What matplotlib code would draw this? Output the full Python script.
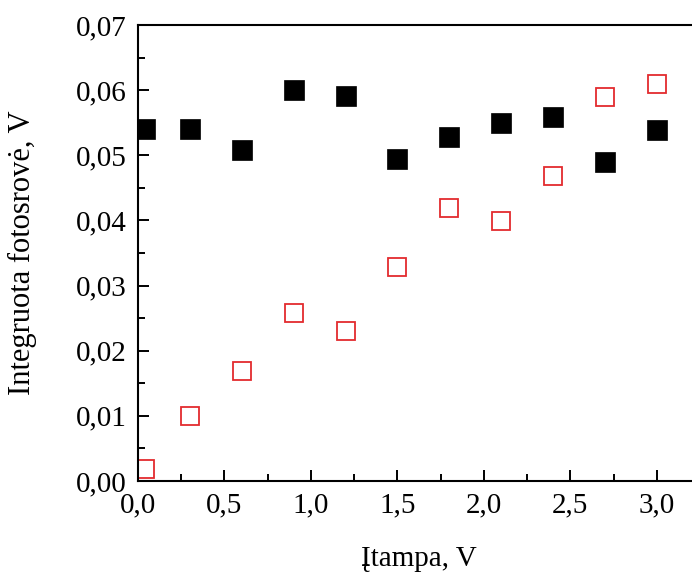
import matplotlib
matplotlib.use("Agg")
import matplotlib.pyplot as plt
from matplotlib.ticker import MultipleLocator, FuncFormatter

# Measured photocurrent for the two sample series
voltage = [0.04, 0.3, 0.6, 0.9, 1.2, 1.5, 1.8, 2.1, 2.4, 2.7, 3.0]
signal_filled = [0.054, 0.054, 0.0508, 0.0600, 0.0591, 0.0494, 0.0528, 0.0550, 0.0559, 0.0490, 0.0539]
signal_open = [0.0018, 0.0100, 0.0169, 0.0258, 0.0230, 0.0329, 0.0419, 0.0399, 0.0468, 0.0590, 0.0610]

x_label = "Įtampa, V"
y_label = "Integruota fotosrovė, V"

plt.rcParams["font.family"] = ["Liberation Serif", "DejaVu Serif"]
plt.rcParams["font.size"] = 21

fig = plt.figure(figsize=(6.92, 5.73), dpi=100)
ax = fig.add_axes([138 / 692, 1 - 481 / 573, 562 / 692, (481 - 25) / 573])

ax.plot(voltage, signal_filled, linestyle="none", marker="s", ms=14,
        mfc="black", mec="black", mew=0.5)
ax.plot(voltage, signal_open, linestyle="none", marker="s", ms=12.3,
        mfc="none", mec="#e32b2e", mew=1.3)

ax.set_xlim(0, 3.25)
ax.set_ylim(0, 0.07)
ax.xaxis.set_major_locator(MultipleLocator(0.5))
ax.xaxis.set_minor_locator(MultipleLocator(0.25))
ax.yaxis.set_major_locator(MultipleLocator(0.01))
ax.yaxis.set_minor_locator(MultipleLocator(0.005))
ax.xaxis.set_major_formatter(FuncFormatter(lambda v, p: f"{v:.1f}".replace(".", ",")))
ax.yaxis.set_major_formatter(FuncFormatter(lambda v, p: f"{v:.2f}".replace(".", ",")))

ax.tick_params(which="both", direction="in", width=1.4, top=False, right=False)
ax.tick_params(which="major", length=8, pad=8)
ax.tick_params(which="minor", length=5)
for side in ax.spines.values():
    side.set_linewidth(1.5)

ax.set_xlabel(x_label, fontsize=21)
ax.set_ylabel(y_label, fontsize=22)
ax.xaxis.set_label_coords((419 - 138) / 562, -0.142)
ax.yaxis.set_label_coords(-0.18, 0.5)

fig.savefig("out.png", dpi=100)
